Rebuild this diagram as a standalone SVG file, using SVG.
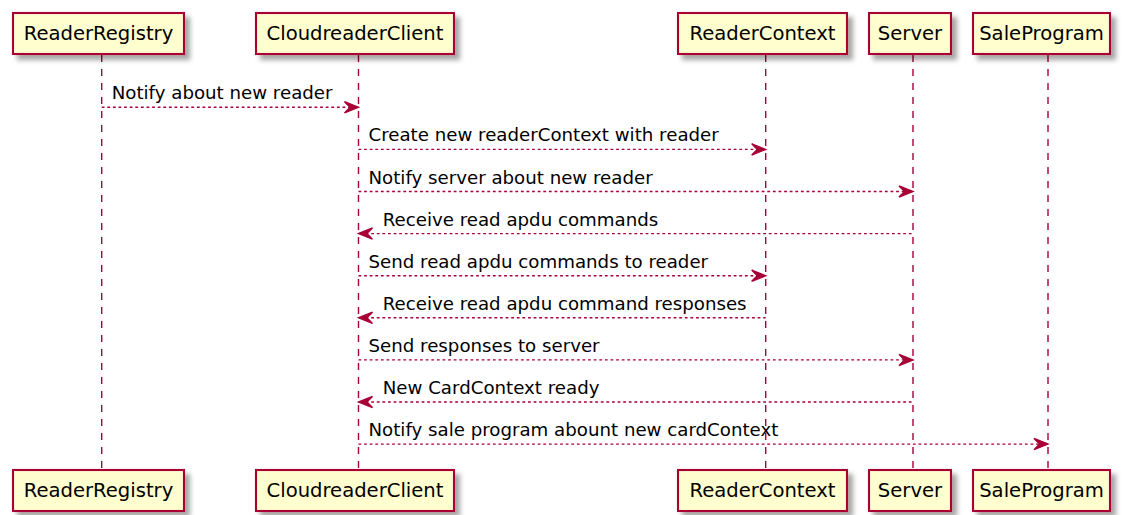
<svg xmlns="http://www.w3.org/2000/svg" width="1125" height="515" viewBox="0 0 1125 515">
<defs>
<filter id="sh" x="-10%" y="-20%" width="130%" height="160%">
<feGaussianBlur in="SourceAlpha" stdDeviation="2.5"/>
<feOffset dx="5" dy="5" result="b"/>
<feFlood flood-color="#000" flood-opacity="0.35"/>
<feComposite in2="b" operator="in"/>
<feMerge><feMergeNode/><feMergeNode in="SourceGraphic"/></feMerge>
</filter>
</defs>
<style>
.box{fill:#FEFECE;stroke:#A80036;stroke-width:2.1;filter:url(#sh)}
.pt{font-family:"DejaVu Sans",Verdana,sans-serif;font-size:19.6px;fill:#000;text-anchor:middle}
.life{stroke:#A80036;stroke-width:1.4;stroke-dasharray:7,7;fill:none}
.msg{stroke:#A80036;stroke-width:1.4;stroke-dasharray:2.8,2.8;fill:none}
.head{fill:#A80036;stroke:#A80036;stroke-width:1.4}
.ml{font-family:"DejaVu Sans",Verdana,sans-serif;font-size:18.2px;fill:#000}
</style>
<rect width="1125" height="515" fill="#fff"/>
<g id="lifelines">
<line class="life" x1="101.7" y1="55" x2="101.7" y2="469"/>
<line class="life" x1="358.5" y1="55" x2="358.5" y2="469"/>
<line class="life" x1="765.7" y1="55" x2="765.7" y2="469"/>
<line class="life" x1="913" y1="55" x2="913" y2="469"/>
<line class="life" x1="1048" y1="55" x2="1048" y2="469"/>
</g>
<g id="ReaderRegistry">
<rect class="box" x="13" y="13" width="171" height="41"/>
<text class="pt" x="98.5" y="40">ReaderRegistry</text>
<rect class="box" x="13" y="470" width="171" height="41"/>
<text class="pt" x="98.5" y="497">ReaderRegistry</text>
</g>
<g id="CloudreaderClient">
<rect class="box" x="256" y="13" width="198" height="41"/>
<text class="pt" x="355" y="40">CloudreaderClient</text>
<rect class="box" x="256" y="470" width="198" height="41"/>
<text class="pt" x="355" y="497">CloudreaderClient</text>
</g>
<g id="ReaderContext">
<rect class="box" x="678" y="13" width="169" height="41"/>
<text class="pt" x="762.5" y="40">ReaderContext</text>
<rect class="box" x="678" y="470" width="169" height="41"/>
<text class="pt" x="762.5" y="497">ReaderContext</text>
</g>
<g id="Server">
<rect class="box" x="869" y="13" width="82" height="41"/>
<text class="pt" x="910" y="40">Server</text>
<rect class="box" x="869" y="470" width="82" height="41"/>
<text class="pt" x="910" y="497">Server</text>
</g>
<g id="SaleProgram">
<rect class="box" x="973" y="13" width="137" height="41"/>
<text class="pt" x="1041.5" y="40">SaleProgram</text>
<rect class="box" x="973" y="470" width="137" height="41"/>
<text class="pt" x="1041.5" y="497">SaleProgram</text>
</g>
<g id="connectors">
<line class="msg" x1="101.7" y1="107.3" x2="357" y2="107.3"/>
<polygon class="head" points="344.5,101.7 358.5,107.3 344.5,112.9 350.1,107.3"/>
<text class="ml" x="111.7" y="99.3">Notify about new reader</text>

<line class="msg" x1="358.5" y1="149.4" x2="764" y2="149.4"/>
<polygon class="head" points="751.7,143.8 765.7,149.4 751.7,155 757.3,149.4"/>
<text class="ml" x="368.5" y="141.4">Create new readerContext with reader</text>

<line class="msg" x1="358.5" y1="191.5" x2="911.5" y2="191.5"/>
<polygon class="head" points="899,185.9 913,191.5 899,197.1 904.6,191.5"/>
<text class="ml" x="368.5" y="183.5">Notify server about new reader</text>

<line class="msg" x1="360" y1="233.6" x2="913" y2="233.6"/>
<polygon class="head" points="372.5,228 358.5,233.6 372.5,239.2 366.9,233.6"/>
<text class="ml" x="382.7" y="225.6">Receive read apdu commands</text>

<line class="msg" x1="358.5" y1="275.7" x2="764" y2="275.7"/>
<polygon class="head" points="751.7,270.1 765.7,275.7 751.7,281.3 757.3,275.7"/>
<text class="ml" x="368.5" y="267.7">Send read apdu commands to reader</text>

<line class="msg" x1="360" y1="317.8" x2="765.7" y2="317.8"/>
<polygon class="head" points="372.5,312.2 358.5,317.8 372.5,323.4 366.9,317.8"/>
<text class="ml" x="382.7" y="309.8">Receive read apdu command responses</text>

<line class="msg" x1="358.5" y1="359.9" x2="911.5" y2="359.9"/>
<polygon class="head" points="899,354.3 913,359.9 899,365.5 904.6,359.9"/>
<text class="ml" x="368.5" y="351.9">Send responses to server</text>

<line class="msg" x1="360" y1="402" x2="913" y2="402"/>
<polygon class="head" points="372.5,396.4 358.5,402 372.5,407.6 366.9,402"/>
<text class="ml" x="382.7" y="394">New CardContext ready</text>

<line class="msg" x1="358.5" y1="444.1" x2="1046.5" y2="444.1"/>
<polygon class="head" points="1034,438.5 1048,444.1 1034,449.7 1039.6,444.1"/>
<text class="ml" x="368.5" y="436.1">Notify sale program abount new cardContext</text>
</g>
</svg>
